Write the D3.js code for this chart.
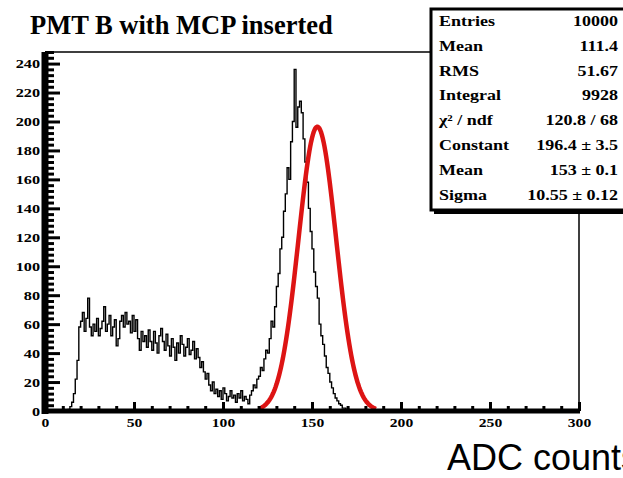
<!DOCTYPE html>
<html>
<head>
<meta charset="utf-8">
<script src="https://cdn.jsdelivr.net/npm/d3@7/dist/d3.min.js"></script>
<style>
  body { margin: 0; background: #fff; }
  svg { display: block; }
</style>
</head>
<body>
<svg id="chart" width="623" height="478"></svg>
<script>
// ---- data ----
const title = "PMT B with MCP inserted";
const xTitle = "ADC counts";
const xTickValues = [0, 50, 100, 150, 200, 250, 300];
const yTickValues = [0, 20, 40, 60, 80, 100, 120, 140, 160, 180, 200, 220, 240];
const nBins = 300;          // bins of width 1 from 0 to 300
const firstBin = 13;        // bins below this one are empty
const binCounts = [
  1, 3, 6, 12, 22, 35, 58, 62, 68, 55, 64, 78, 58, 52, 60, 55, 64, 52, 57, 62,   // 13-32
  72, 55, 60, 66, 52, 58, 63, 45, 50, 62, 66, 58, 68, 60, 62, 54, 66, 55, 63, 50, // 33-52
  42, 55, 48, 52, 44, 56, 48, 42, 55, 47, 40, 52, 57, 48, 42, 53, 45, 38, 50, 44, // 53-72
  35, 47, 40, 52, 46, 38, 44, 50, 39, 42, 48, 36, 43, 37, 30, 34, 27, 22, 26, 18, // 73-92
  14, 20, 12, 15, 10, 14, 8, 16, 12, 7, 10, 14, 9, 11, 6, 12, 9, 14, 7, 10,       // 93-112
  8, 5, 11, 14, 18, 16, 22, 24, 30, 28, 36, 42, 40, 50, 62, 58, 72, 86, 95, 112,  // 113-132
  120, 138, 150, 168, 160, 186, 200, 236, 196, 210, 214, 206, 188, 172, 158, 140, 124, 112, 96, 86, // 133-152
  78, 60, 52, 46, 38, 30, 26, 20, 16, 12, 9, 7, 5, 4, 2, 2, 1, 1                   // 153-170
];
const statLabels = ["Entries", "Mean", "RMS", "Integral", "\u03c7\u00b2 / ndf", "Constant", "Mean", "Sigma"];
const statValues = ["10000", "111.4", "51.67", "9928", "120.8 / 68", "196.4 \u00b1 3.5", "153 \u00b1 0.1", "10.55 \u00b1 0.12"];
const fitConstant = 196.4;
const fitMean = 153;
const fitSigma = 10.55;
const fitRange = [120, 186];

// ---- layout ----
const svg = d3.select("#chart");
const frame = { left: 45, right: 579, top: 52, bottom: 411 };
const x = d3.scaleLinear().domain([0, 300]).range([frame.left, frame.right]);
const y = d3.scaleLinear().domain([0, 248]).range([frame.bottom, frame.top]);
const serif = "'Liberation Serif','Times New Roman',serif";

// histogram contents per bin
const bins = d3.range(nBins).map(i => {
  const k = i - firstBin;
  return { lo: i, v: (k >= 0 && k < binCounts.length) ? binCounts[k] : 0 };
});

svg.append("defs").append("clipPath").attr("id", "plotClip")
  .append("rect")
  .attr("x", frame.left).attr("y", frame.top)
  .attr("width", frame.right - frame.left).attr("height", frame.bottom - frame.top);

// frame top and right edges
svg.append("path")
  .attr("d", `M${frame.left},${frame.top}H${frame.right}V${frame.bottom}`)
  .attr("fill", "none").attr("stroke", "#000").attr("stroke-width", 1.5);

// histogram outline
const stepPts = [[0, 0]].concat(bins.map(b => [b.lo, b.v]), [[nBins, bins[nBins - 1].v], [nBins, 0]]);
const histLine = d3.line().x(d => x(d[0])).y(d => y(d[1])).curve(d3.curveStepAfter);
svg.append("path")
  .attr("clip-path", "url(#plotClip)")
  .attr("d", histLine(stepPts))
  .attr("fill", "none").attr("stroke", "#000").attr("stroke-width", 1.4);

// gaussian fit curve from the fitted parameters
const gaus = t => fitConstant * Math.exp(-0.5 * Math.pow((t - fitMean) / fitSigma, 2));
const fitPts = d3.range(fitRange[0], fitRange[1] + 0.001, 0.5).map(t => [t, gaus(t)]);
svg.append("path")
  .attr("d", d3.line().x(d => x(d[0])).y(d => y(d[1])).curve(d3.curveLinear)(fitPts))
  .attr("fill", "none").attr("stroke", "#dd1414").attr("stroke-width", 4.5)
  .attr("stroke-linejoin", "round");

// y axis: minor then major ticks, inside the frame
const yMinor = d3.range(0, 249, 4).filter(v => v % 20 !== 0);
svg.append("g").attr("transform", `translate(${frame.left},0)`)
  .call(d3.axisLeft(y).tickValues(yMinor).tickSize(-9).tickSizeOuter(0).tickFormat(""))
  .call(g => g.select(".domain").remove())
  .call(g => g.selectAll("line").attr("stroke", "#000").attr("stroke-width", 3));
const yAxisG = svg.append("g").attr("transform", `translate(${frame.left},0)`)
  .call(d3.axisLeft(y).tickValues(yTickValues).tickSize(-15).tickSizeOuter(0).tickPadding(4).tickFormat(d3.format("d")));
yAxisG.select(".domain").attr("stroke", "#000").attr("stroke-width", 7)
  .attr("d", `M0,${frame.top}V${frame.bottom + 3}`);
yAxisG.selectAll("line").attr("stroke", "#000").attr("stroke-width", 3);
yAxisG.selectAll("text")
  .attr("font-family", serif).attr("font-weight", "bold").attr("font-size", 13)
  .attr("fill", "#000").attr("transform", "scale(1.25,1)");

// x axis: minor then major ticks, pointing up into the frame
const xMinor = d3.range(0, 301, 10).filter(v => v % 50 !== 0);
svg.append("g").attr("transform", `translate(0,${frame.bottom})`)
  .call(d3.axisBottom(x).tickValues(xMinor).tickSize(-5).tickSizeOuter(0).tickFormat(""))
  .call(g => g.select(".domain").remove())
  .call(g => g.selectAll("line").attr("stroke", "#000").attr("stroke-width", 3));
const xAxisG = svg.append("g").attr("transform", `translate(0,${frame.bottom})`)
  .call(d3.axisBottom(x).tickValues(xTickValues).tickSize(-9).tickSizeOuter(0).tickPadding(5).tickFormat(d3.format("d")));
xAxisG.select(".domain").attr("stroke", "#000").attr("stroke-width", 5)
  .attr("d", `M${frame.left - 3},0H${frame.right + 1}`);
xAxisG.selectAll("line").attr("stroke", "#000").attr("stroke-width", 3);
xAxisG.selectAll("text")
  .attr("font-family", serif).attr("font-weight", "bold").attr("font-size", 13)
  .attr("fill", "#000").attr("dy", "0.95em").attr("y", 4).attr("transform", "scale(1.2,1)");

// title
svg.append("text")
  .attr("x", 30).attr("y", 34)
  .attr("font-family", serif).attr("font-weight", "bold").attr("font-size", 26.5)
  .attr("fill", "#000").text(title);

// x-axis title
svg.append("text")
  .attr("x", 447).attr("y", 470)
  .attr("font-family", "'Liberation Sans',Arial,sans-serif").attr("font-size", 36)
  .attr("fill", "#000").text(xTitle);

// statistics box with shadow
const box = { x: 431, y: 9, w: 200, h: 201 };
svg.append("rect").attr("x", box.x + 3).attr("y", box.y + 4)
  .attr("width", box.w).attr("height", box.h).attr("fill", "#000");
svg.append("rect").attr("x", box.x).attr("y", box.y)
  .attr("width", box.w).attr("height", box.h)
  .attr("fill", "#fff").attr("stroke", "#000").attr("stroke-width", 3);
const rowY = i => 26 + i * 24.8;
const statG = svg.append("g");
statLabels.forEach((lab, i) => {
  statG.append("text")
    .attr("transform", `translate(439,${rowY(i)}) scale(1.2,1)`)
    .attr("font-family", serif).attr("font-weight", "bold").attr("font-size", 15)
    .attr("fill", "#000").text(lab);
  statG.append("text")
    .attr("transform", `translate(618,${rowY(i)}) scale(1.2,1)`)
    .attr("text-anchor", "end")
    .attr("font-family", serif).attr("font-weight", "bold").attr("font-size", 15)
    .attr("fill", "#000").text(statValues[i]);
});
</script>
</body>
</html>
